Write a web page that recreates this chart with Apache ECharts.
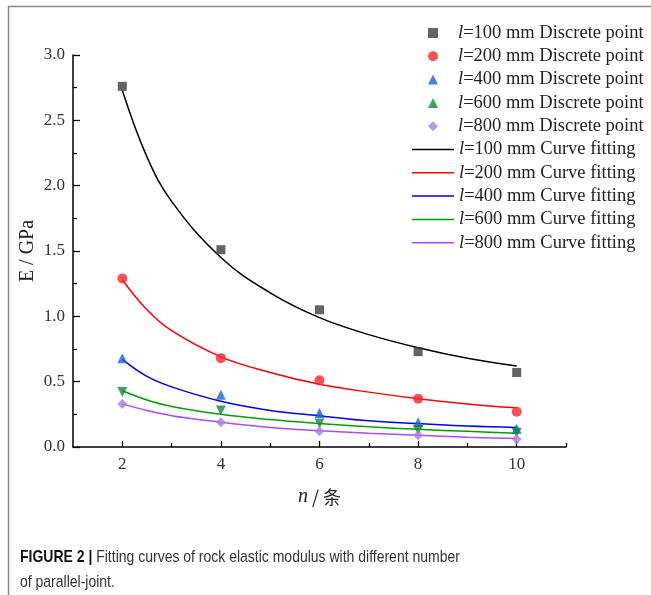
<!DOCTYPE html>
<html>
<head>
<meta charset="utf-8">
<script src="https://cdn.jsdelivr.net/npm/echarts@6/dist/echarts.min.js"></script>
<style>
  html, body { margin: 0; padding: 0; background: #fff; }
  #chart { width: 651px; height: 595px; }
</style>
</head>
<body>
<div id="chart"></div>
<script>
// measured points, n = number of joints
var nPts = [2, 4, 6, 8, 10];
var pts100 = [2.76, 1.51, 1.05, 0.73, 0.57];
var pts200 = [1.29, 0.68, 0.51, 0.37, 0.27];
var pts400 = [0.68, 0.40, 0.26, 0.19, 0.14];
var pts600 = [0.42, 0.28, 0.18, 0.13, 0.11];
var pts800 = [0.33, 0.19, 0.12, 0.09, 0.06];

// fitted curves
var nFit = [2, 2.5, 3, 4, 5, 6, 7, 8, 9, 10];
var fit100 = [2.73, 2.22, 1.88, 1.45, 1.18, 0.99, 0.86, 0.76, 0.68, 0.62];
var fit200 = [1.28, 1.05, 0.89, 0.69, 0.57, 0.48, 0.42, 0.37, 0.33, 0.30];
var fit400 = [0.67, 0.54, 0.46, 0.35, 0.28, 0.24, 0.20, 0.18, 0.16, 0.15];
var fit600 = [0.43, 0.36, 0.31, 0.25, 0.21, 0.18, 0.155, 0.135, 0.12, 0.105];
var fit800 = [0.33, 0.28, 0.24, 0.19, 0.15, 0.125, 0.105, 0.09, 0.075, 0.065];

var xMajor = [2, 4, 6, 8, 10];
var xMinor = [3, 5, 7, 9, 11];

var ptNames = ['l=100 mm Discrete point', 'l=200 mm Discrete point', 'l=400 mm Discrete point',
    'l=600 mm Discrete point', 'l=800 mm Discrete point'];
var fitNames = ['l=100 mm Curve fitting', 'l=200 mm Curve fitting', 'l=400 mm Curve fitting',
    'l=600 mm Curve fitting', 'l=800 mm Curve fitting'];

var serif = 'Liberation Serif';
var rowStep = 23.3;

function zip(xs, ys) {
    return xs.map(function (x, i) { return [x, ys[i]]; });
}

function pointSeries(name, sym, color, data, rot) {
    return {
        name: name,
        type: 'scatter',
        symbol: sym,
        symbolRotate: rot || 0,
        symbolSize: sym === 'rect' ? 9 : 10,
        itemStyle: {color: color},
        data: zip(nPts, data),
        z: 3
    };
}

function fitSeries(name, color, data) {
    return {
        name: name,
        type: 'line',
        smooth: 0.4,
        symbol: 'none',
        lineStyle: {color: color, width: 1.5},
        itemStyle: {color: color},
        data: zip(nFit, data),
        z: 2
    };
}

var legendText = {
    fontFamily: serif,
    fontSize: 18.5,
    color: '#222',
    lineHeight: 20,
    rich: {i: {fontStyle: 'italic', fontFamily: serif, fontSize: 18.5, lineHeight: 20}}
};
function legendFmt(name) {
    return '{i|' + name.charAt(0) + '}' + name.slice(1);
}

var chart = echarts.init(document.getElementById('chart'));

chart.setOption({
    animation: false,
    grid: {left: 73, right: 85, top: 55, bottom: 148},
    legend: [{
        data: ptNames,
        orient: 'vertical',
        left: 428,
        top: 23,
        padding: 0,
        itemWidth: 10,
        itemHeight: 10,
        itemGap: rowStep - 20,
        textStyle: Object.assign({padding: [0, 0, 0, 15]}, legendText),
        formatter: legendFmt
    }, {
        data: fitNames.map(function (n) { return {name: n, icon: 'rect'}; }),
        orient: 'vertical',
        left: 412,
        top: 23 + 5 * rowStep,
        padding: 0,
        itemWidth: 42,
        itemHeight: 1.5,
        itemGap: rowStep - 20,
        textStyle: legendText,
        formatter: legendFmt
    }],
    xAxis: [{
        type: 'value',
        min: 1,
        max: 11,
        name: '{i|n} / 条',
        nameLocation: 'middle',
        nameGap: 40,
        nameTextStyle: {
            fontFamily: 'Noto Sans CJK SC',
            fontSize: 18,
            color: '#222',
            rich: {i: {fontFamily: serif, fontStyle: 'italic', fontSize: 20}}
        },
        splitLine: {show: false},
        axisLine: {lineStyle: {color: '#000', width: 1.5}},
        axisTick: {inside: true, length: 6, customValues: xMajor, lineStyle: {color: '#000', width: 1.3}},
        axisLabel: {customValues: xMajor, margin: 9, fontFamily: serif, fontSize: 17, color: '#333'}
    }, {
        type: 'value',
        min: 1,
        max: 11,
        position: 'bottom',
        splitLine: {show: false},
        axisLine: {show: false},
        axisTick: {inside: true, length: 4, customValues: xMinor, lineStyle: {color: '#000', width: 1.3}},
        axisLabel: {show: false}
    }],
    yAxis: {
        type: 'value',
        min: 0,
        max: 3,
        interval: 0.5,
        name: 'E / GPa',
        nameLocation: 'middle',
        nameGap: 35,
        nameMoveOverlap: false,
        nameTextStyle: {fontFamily: serif, fontSize: 20, color: '#222'},
        splitLine: {show: false},
        axisLine: {show: true, lineStyle: {color: '#000', width: 1.5}},
        axisTick: {inside: true, length: 7, lineStyle: {color: '#000', width: 1.3}},
        minorTick: {show: true, splitNumber: 2, length: 4, lineStyle: {color: '#000', width: 1.3}},
        axisLabel: {
            margin: 8,
            fontFamily: serif,
            fontSize: 17,
            color: '#333',
            formatter: function (v) { return v.toFixed(1); }
        }
    },
    graphic: [
        {type: 'line', shape: {x1: 8.5, y1: 6, x2: 8.5, y2: 595}, style: {stroke: '#8a8a8a', lineWidth: 1.5}},
        {type: 'line', shape: {x1: 8, y1: 6.5, x2: 651, y2: 6.5}, style: {stroke: '#8a8a8a', lineWidth: 1.5}},
        {
            type: 'text',
            left: 20,
            top: 545,
            scaleX: 0.823,
            style: {
                text: '{b|FIGURE 2 |} Fitting curves of rock elastic modulus with different number\nof parallel-joint.',
                font: '17px "Liberation Sans"',
                fill: '#333',
                lineHeight: 25,
                rich: {b: {fontWeight: 'bold', fontFamily: 'Liberation Sans', fontSize: 17, fill: '#111'}}
            }
        }
    ],
    series: [
        pointSeries(ptNames[0], 'rect', '#3d3d3d', pts100),
        pointSeries(ptNames[1], 'circle', '#ff2525', pts200),
        pointSeries(ptNames[2], 'triangle', '#1a5fd6', pts400),
        pointSeries(ptNames[3], 'triangle', '#0e8a3e', pts600, 180),
        pointSeries(ptNames[4], 'diamond', '#b07ae0', pts800),
        fitSeries(fitNames[0], '#000000', fit100),
        fitSeries(fitNames[1], '#ff0000', fit200),
        fitSeries(fitNames[2], '#0000ff', fit400),
        fitSeries(fitNames[3], '#00a000', fit600),
        fitSeries(fitNames[4], '#a64dff', fit800)
    ]
});
</script>
</body>
</html>
